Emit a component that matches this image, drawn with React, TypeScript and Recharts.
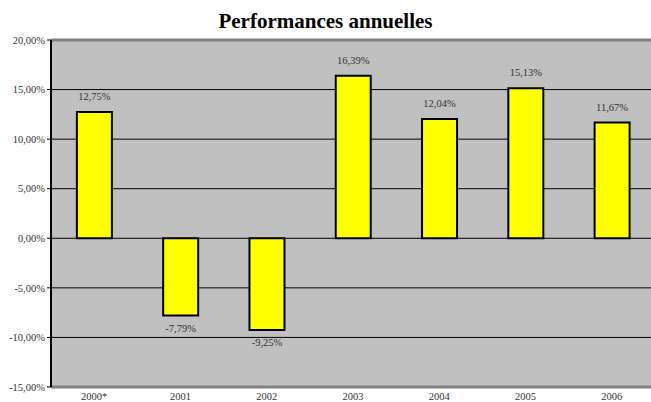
import React from 'react';
import { BarChart, Bar, XAxis, YAxis, CartesianGrid, ReferenceLine, LabelList } from 'recharts';

const years = ['2000*', '2001', '2002', '2003', '2004', '2005', '2006'];
const performances = [12.75, -7.79, -9.25, 16.39, 12.04, 15.13, 11.67];
const yTicks = [-15, -10, -5, 0, 5, 10, 15, 20];

const data = years.map((y, i) => ({ year: y, perf: performances[i] }));

const fmt = (v: number) => v.toFixed(2).replace('.', ',') + '%';
const FONT = '"Liberation Serif", "DejaVu Serif", serif';

const renderLabel = (props: any) => {
  const { x, y, width, height, value } = props;
  const cx = x + width / 2;
  const v = Number(value);
  const top = Math.min(y, y + height);
  const bottom = Math.max(y, y + height);
  const ty = v >= 0 ? top - 12 : bottom + 16;
  return (
    <text x={cx} y={ty} textAnchor="middle" fontSize={10.5} fill="#333" fontFamily={FONT}>
      {fmt(v)}
    </text>
  );
};

export default function App() {
  return (
    <div style={{ position: 'absolute', left: 0, top: 0, width: 651, height: 402, overflow: 'hidden', background: '#fff' }}>
      <div style={{ position: 'absolute', left: 0, top: 11, width: 651, textAlign: 'center', fontFamily: FONT, fontWeight: 'bold', fontSize: 21, lineHeight: '21px', color: '#000' }}>
        Performances annuelles
      </div>
      <BarChart width={660} height={402} data={data} margin={{ top: 40, right: 5, bottom: 0, left: 0 }} barCategoryGap="30%">
        <CartesianGrid vertical={false} stroke="#000" strokeWidth={1} fill="#C0C0C0" fillOpacity={1} strokeOpacity={1} />
        <ReferenceLine y={20} stroke="#808080" strokeWidth={3} ifOverflow="extendDomain" />
        <XAxis
          dataKey="year"
          height={15}
          axisLine={{ stroke: '#808080', strokeWidth: 3 }}
          tickLine={false}
          interval={0}
          tick={{ fontSize: 10.5, fill: '#333', fontFamily: FONT, dy: -2 }}
        />
        <YAxis
          domain={[-15, 20]}
          ticks={yTicks}
          width={51}
          interval={0}
          tickFormatter={(v: number) => fmt(v)}
          axisLine={{ stroke: '#000', strokeWidth: 2 }}
          tickLine={{ stroke: '#000' }}
          tickSize={4}
          tick={{ fontSize: 10.5, fill: '#333', fontFamily: FONT }}
        />
        <Bar dataKey="perf" fill="#FFFF00" stroke="#000" strokeWidth={2} isAnimationActive={false}>
          <LabelList dataKey="perf" content={renderLabel} />
        </Bar>
      </BarChart>
    </div>
  );
}
